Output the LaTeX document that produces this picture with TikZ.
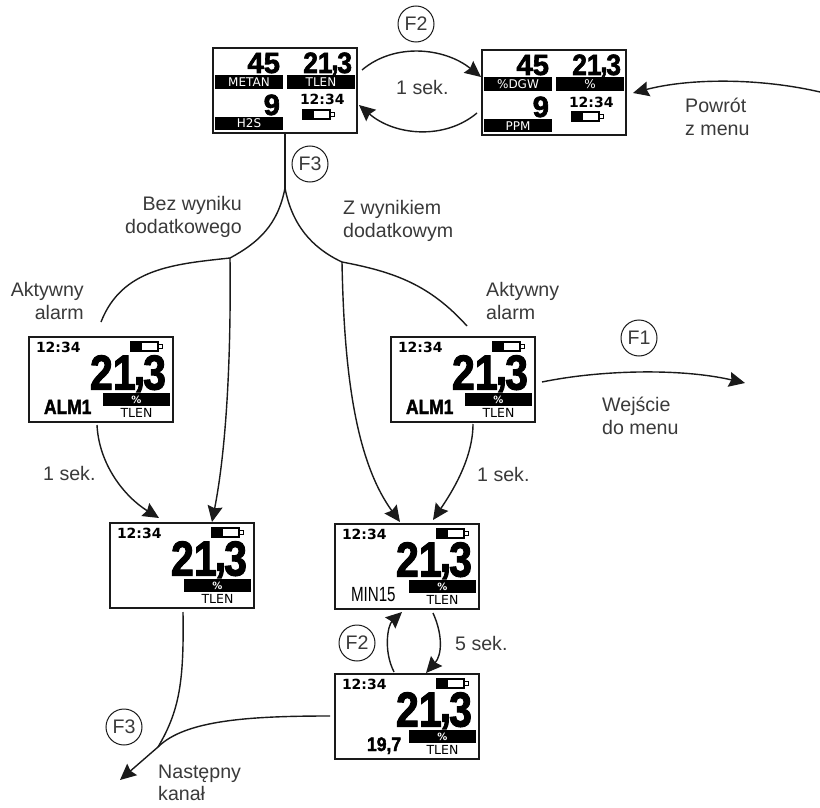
\documentclass[tikz,border=0pt]{standalone}
\usepackage{fontspec}
\usepackage{graphicx}
\usetikzlibrary{arrows.meta}
\setmainfont{Liberation Sans}
\newfontfamily\numfont[FakeBold=2.2]{Liberation Sans Bold}
\newfontfamily\lcdfont{DejaVu Sans}
\newfontfamily\lcdbold{DejaVu Sans Bold}
\definecolor{ink}{HTML}{1A1A1A}
\definecolor{txt}{HTML}{3A3A3A}
\newcommand{\numtxt}[3]{\raisebox{0pt}[\height][0pt]{\numfont\fontsize{#1}{#1}\selectfont\scalebox{#2}[1]{#3}}}
\newcommand{\lcdtxt}[2]{{\lcdfont\fontsize{#1}{#1}\selectfont #2}}
\newcommand{\clocktxt}{{\lcdbold\fontsize{14}{14}\selectfont 12:34}}
\newcommand{\bigval}{21\kern-.05em\raisebox{.1em}{,}\kern-.05em3}
\tikzset{
  x=1pt,y=-1pt,
  screenbox/.style={draw=ink,line width=1.4pt,fill=white,minimum width=144pt,minimum height=85pt,inner sep=0pt,outer sep=0pt,anchor=north west},
  raw/.style={inner sep=0pt,outer sep=0pt,text=black},
  flow/.style={draw=ink,line width=1.4pt},
  tipflow/.style={flow,-{Stealth[length=16pt,width=15pt,inset=2pt]}},
  keycircle/.style={circle,draw=ink,line width=1pt,minimum size=36pt,inner sep=0pt,text=txt,font=\fontsize{19.6}{22}\selectfont},
  lbl/.style={inner sep=0pt,text=txt,align=left,font=\fontsize{19.6}{22.3}\selectfont},
  lblr/.style={lbl,align=right},
}
\newcommand{\battery}[2]{%
  \fill[black] (#1,#2) rectangle ++(11,9);
  \draw[black,line width=1.4pt] (#1,#2) rectangle ++(27,9);
  \draw[black,line width=1pt] (#1+27,#2+2.5) rectangle ++(4,4);
}
% single reading screen: name, x, y, extra contents
\newcommand{\onescreen}[4]{%
  \node[screenbox] (#1) at (#2,#3) {};
  \begin{scope}[shift={(#2,#3)}]
    \node[raw,anchor=base west] (#1-time) at (7,15) {\clocktxt};
    \battery{102}{5}
    \node[raw,anchor=base east] (#1-val) at (137,52.5) {\numtxt{49}{0.84}{\bigval}};
    \fill[black] (74,56) rectangle (141,69);
    \node[raw,text=white,anchor=base] (#1-pct) at (107.5,66.5) {{\lcdbold\fontsize{10}{10}\selectfont\%}};
    \node[raw,anchor=base] (#1-tlen) at (107.5,80) {\lcdtxt{12.5}{TLEN}};
    #4
  \end{scope}}
% three reading screen: name, x, y, three bar labels
\newcommand{\triscreen}[6]{%
  \node[screenbox] (#1) at (#2,#3) {};
  \begin{scope}[shift={(#2,#3)}]
    \node[raw,anchor=base east] (#1-a) at (67,25) {\numtxt{29.3}{1}{45}};
    \node[raw,anchor=base east] (#1-b) at (139,25) {\numtxt{29.3}{0.9}{\bigval}};
    \node[raw,anchor=base east] (#1-c) at (67,67) {\numtxt{29.3}{1}{9}};
    \fill[black] (2,27) rectangle (70,41);
    \fill[black] (74,27) rectangle (142,41);
    \fill[black] (2,69) rectangle (70,82);
    \node[raw,text=white,anchor=base] (#1-la) at (36,38.5) {\lcdtxt{12}{#4}};
    \node[raw,text=white,anchor=base] (#1-lb) at (108,38.5) {\lcdtxt{12}{#5}};
    \node[raw,text=white,anchor=base] (#1-lc) at (36,80) {\lcdtxt{12}{#6}};
    \node[raw,anchor=base west] (#1-time) at (87,57) {\clocktxt};
    \battery{90}{62}
  \end{scope}}
\begin{document}
\begin{tikzpicture}
\useasboundingbox (0,0) rectangle (820,808);
\fill[white] (0,0) rectangle (820,808);

\triscreen{top}{213}{48}{METAN}{TLEN}{H2S}
\triscreen{topr}{482}{50}{\%DGW}{\%}{PPM}

\onescreen{alml}{29}{337}{\node[raw,anchor=base west] (alml-tag) at (15,77) {\numtxt{20.5}{0.85}{ALM1}};}
\onescreen{almr}{391}{337}{\node[raw,anchor=base west] (almr-tag) at (15,77) {\numtxt{20.5}{0.85}{ALM1}};}
\onescreen{pl}{110}{523}{}
\onescreen{pr}{335}{524}{\node[raw,anchor=base west] (pr-tag) at (16,77) {{\fontsize{20.5}{20.5}\selectfont\scalebox{0.74}[1]{MIN15}}};}
\onescreen{low}{335}{674}{\node[raw,anchor=base west] (low-tag) at (32,77) {\numtxt{19.5}{0.9}{19,7}};}

\coordinate (fork) at (285,188);
\coordinate (jl) at (230,258);
\coordinate (jr) at (342,262);
\coordinate (endl) at (101,322);
\coordinate (endr) at (467,326);
\coordinate (merge) at (158,747);
\coordinate (nextch) at (120,780);
\coordinate (menuin) at (745,383);
\coordinate (menuout) at (820,92);

% top pair
\draw[tipflow] ([shift={(5,22)}]top.north east) .. controls (395,42) and (445,48) .. ([shift={(-1,27)}]topr.north west);
\draw[tipflow] ([shift={(-5,63)}]topr.north west) .. controls (445,140) and (395,136) .. ([shift={(2,57)}]top.north east);
\draw[tipflow] (menuout) .. controls (760,78) and (690,78) .. ([shift={(7,43)}]topr.north east);

% fork
\draw[flow] (top.south) -- (fork);
\draw[flow] (fork) .. controls (278,225) and (258,243) .. (jl);
\draw[flow] (jl) .. controls (175,264) and (122,268) .. (endl);
\draw[flow] (fork) .. controls (292,225) and (312,248) .. (jr);
\draw[flow] (jr) .. controls (395,272) and (430,285) .. (endr);
\draw[tipflow] (jl) .. controls (231,340) and (228,440) .. ([shift={(102,-1)}]pl.north west);
\draw[tipflow] (jr) .. controls (344,370) and (355,460) .. ([shift={(65,-2)}]pr.north west);

% alarm screens
\draw[tipflow] ([shift={(68,3)}]alml.south west) .. controls (99,465) and (125,497) .. ([shift={(49,-5)}]pl.north west);
\draw[tipflow] ([shift={(82,2)}]almr.south west) .. controls (473,460) and (450,495) .. ([shift={(98,-4)}]pr.north west);
\draw[tipflow] ([shift={(7,45)}]almr.north east) .. controls (600,370) and (680,368) .. (menuin);

% lower loop
\draw[tipflow] ([shift={(59,-2)}]low.north west) .. controls (383,650) and (388,625) .. ([shift={(67,3)}]pr.south west);
\draw[tipflow] ([shift={(98,4)}]pr.south west) .. controls (443,635) and (442,655) .. ([shift={(91,-1)}]low.north west);

% exit
\draw[flow] ([shift={(73,4)}]pl.south west) .. controls (184,680) and (180,710) .. (merge);
\draw[tipflow] ([shift={(-5,42)}]low.north west) .. controls (250,716) and (185,720) .. (merge) -- (nextch);

% keys
\node[keycircle] (kf2a) at (416,24) {F2};
\node[keycircle] (kf3a) at (310,164) {F3};
\node[keycircle] (kf1) at (639,338) {F1};
\node[keycircle] (kf2b) at (357,643) {F2};
\node[keycircle] (kf3b) at (124,727) {F3};

% labels
\node[lbl,anchor=west] (t1) at (396,87) {1 sek.};
\node[lbl,anchor=west] (t2) at (685,117) {Powrót\\z menu};
\node[lblr,anchor=east] (t3) at (242,217) {Bez wyniku\\dodatkowego};
\node[lbl,anchor=west] (t4) at (343,221) {Z wynikiem\\dodatkowym};
\node[lblr,anchor=east] (t5) at (84,301) {Aktywny\\alarm};
\node[lbl,anchor=west] (t6) at (486,301) {Aktywny\\alarm};
\node[lbl,anchor=west] (t7) at (602,416) {Wejście\\do menu};
\node[lbl,anchor=west] (t8) at (43,473) {1 sek.};
\node[lbl,anchor=west] (t9) at (477,474) {1 sek.};
\node[lbl,anchor=west] (t10) at (455,643) {5 sek.};
\node[lbl,anchor=west] (t11) at (158,783) {Następny\\kanał};
\end{tikzpicture}
\end{document}
